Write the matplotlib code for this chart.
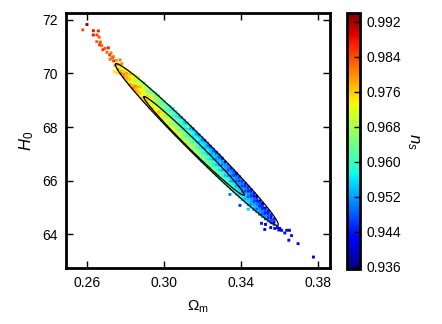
import numpy as np
import matplotlib
matplotlib.use("Agg")
import matplotlib.pyplot as plt

plt.rcParams['font.family'] = ['Liberation Sans', 'DejaVu Sans']
plt.rcParams['mathtext.fontset'] = 'custom'
plt.rcParams['mathtext.rm'] = 'Liberation Sans'
plt.rcParams['mathtext.it'] = 'Liberation Sans:italic'

# ---- dense band of samples: one Omega_m value per column, H0 and n_s per point ----
om_cols = [0.2760, 0.2775, 0.2790, 0.2805, 0.2820, 0.2835, 0.2850, 0.2865, 0.2880, 0.2895,
           0.2910, 0.2925, 0.2940, 0.2955, 0.2970, 0.2985, 0.3000, 0.3015, 0.3030, 0.3045,
           0.3060, 0.3075, 0.3090, 0.3105, 0.3120, 0.3135, 0.3150, 0.3165, 0.3180, 0.3195,
           0.3210, 0.3225, 0.3240, 0.3255, 0.3270, 0.3285, 0.3300, 0.3315, 0.3330, 0.3345,
           0.3360, 0.3375, 0.3390, 0.3405, 0.3420, 0.3435, 0.3450, 0.3465, 0.3480, 0.3495,
           0.3510, 0.3525, 0.3540, 0.3555, 0.3570]
h0_cols = [
    [70.16, 70.26, 70.35],
    [70.00, 70.10, 70.20, 70.29],
    [69.87, 69.97, 70.07, 70.17],
    [69.72, 69.82, 69.92, 70.02, 70.12],
    [69.59, 69.69, 69.79, 69.89, 69.99, 70.07],
    [69.46, 69.56, 69.66, 69.76, 69.86, 69.96],
    [69.34, 69.44, 69.54, 69.64, 69.74, 69.84, 69.92],
    [69.21, 69.31, 69.41, 69.51, 69.61, 69.71, 69.80],
    [69.09, 69.19, 69.29, 69.39, 69.49, 69.59, 69.69],
    [68.97, 69.07, 69.17, 69.27, 69.37, 69.47, 69.57, 69.65],
    [68.85, 68.95, 69.05, 69.15, 69.25, 69.35, 69.45, 69.53],
    [68.72, 68.82, 68.92, 69.02, 69.12, 69.22, 69.32, 69.42],
    [68.61, 68.71, 68.81, 68.91, 69.01, 69.11, 69.21, 69.31],
    [68.49, 68.59, 68.69, 68.79, 68.89, 68.99, 69.09, 69.19, 69.27],
    [68.37, 68.47, 68.57, 68.67, 68.77, 68.87, 68.97, 69.07, 69.16],
    [68.25, 68.35, 68.45, 68.55, 68.65, 68.75, 68.85, 68.95, 69.05],
    [68.15, 68.25, 68.35, 68.45, 68.55, 68.65, 68.75, 68.85, 68.95],
    [68.03, 68.13, 68.23, 68.33, 68.43, 68.53, 68.63, 68.73, 68.83],
    [67.92, 68.02, 68.12, 68.22, 68.32, 68.42, 68.52, 68.62, 68.72, 68.78],
    [67.81, 67.91, 68.01, 68.11, 68.21, 68.31, 68.41, 68.51, 68.61, 68.68],
    [67.70, 67.80, 67.90, 68.00, 68.10, 68.20, 68.30, 68.40, 68.50, 68.57],
    [67.59, 67.69, 67.79, 67.89, 67.99, 68.09, 68.19, 68.29, 68.39, 68.46],
    [67.48, 67.58, 67.68, 67.78, 67.88, 67.98, 68.08, 68.18, 68.28, 68.35],
    [67.37, 67.47, 67.57, 67.67, 67.77, 67.87, 67.97, 68.07, 68.17, 68.25],
    [67.26, 67.36, 67.46, 67.56, 67.66, 67.76, 67.86, 67.96, 68.06, 68.14],
    [67.15, 67.25, 67.35, 67.45, 67.55, 67.65, 67.75, 67.85, 67.95, 68.03],
    [67.05, 67.15, 67.25, 67.35, 67.45, 67.55, 67.65, 67.75, 67.85, 67.93],
    [66.94, 67.04, 67.14, 67.24, 67.34, 67.44, 67.54, 67.64, 67.74, 67.82],
    [66.83, 66.93, 67.03, 67.13, 67.23, 67.33, 67.43, 67.53, 67.63, 67.71],
    [66.72, 66.82, 66.92, 67.02, 67.12, 67.22, 67.32, 67.42, 67.52, 67.60],
    [66.62, 66.72, 66.82, 66.92, 67.02, 67.12, 67.22, 67.32, 67.42, 67.50],
    [66.51, 66.61, 66.71, 66.81, 66.91, 67.01, 67.11, 67.21, 67.31, 67.39],
    [66.40, 66.50, 66.60, 66.70, 66.80, 66.90, 67.00, 67.10, 67.20, 67.28],
    [66.30, 66.40, 66.50, 66.60, 66.70, 66.80, 66.90, 67.00, 67.10, 67.17],
    [66.19, 66.29, 66.39, 66.49, 66.59, 66.69, 66.79, 66.89, 66.99, 67.06],
    [66.09, 66.19, 66.29, 66.39, 66.49, 66.59, 66.69, 66.79, 66.89, 66.95],
    [65.99, 66.09, 66.19, 66.29, 66.39, 66.49, 66.59, 66.69, 66.79, 66.84],
    [65.89, 65.99, 66.09, 66.19, 66.29, 66.39, 66.49, 66.59, 66.69],
    [65.78, 65.88, 65.98, 66.08, 66.18, 66.28, 66.38, 66.48, 66.58],
    [65.68, 65.78, 65.88, 65.98, 66.08, 66.18, 66.28, 66.38, 66.47],
    [65.59, 65.69, 65.79, 65.89, 65.99, 66.09, 66.19, 66.29, 66.37],
    [65.49, 65.59, 65.69, 65.79, 65.89, 65.99, 66.09, 66.19, 66.26],
    [65.39, 65.49, 65.59, 65.69, 65.79, 65.89, 65.99, 66.09, 66.14],
    [65.29, 65.39, 65.49, 65.59, 65.69, 65.79, 65.89, 65.99],
    [65.20, 65.30, 65.40, 65.50, 65.60, 65.70, 65.80, 65.88],
    [65.10, 65.20, 65.30, 65.40, 65.50, 65.60, 65.70, 65.77],
    [65.01, 65.11, 65.21, 65.31, 65.41, 65.51, 65.61, 65.65],
    [64.92, 65.02, 65.12, 65.22, 65.32, 65.42, 65.52],
    [64.83, 64.93, 65.03, 65.13, 65.23, 65.33, 65.41],
    [64.74, 64.84, 64.94, 65.04, 65.14, 65.24],
    [64.66, 64.76, 64.86, 64.96, 65.06, 65.14],
    [64.57, 64.67, 64.77, 64.87, 64.97],
    [64.49, 64.59, 64.69, 64.79, 64.87],
    [64.42, 64.52, 64.62, 64.72],
    [64.36, 64.46, 64.56],
]
ns_cols = [
    [0.981, 0.973, 0.979],
    [0.983, 0.978, 0.972, 0.975],
    [0.980, 0.981, 0.976, 0.970],
    [0.976, 0.978, 0.977, 0.979, 0.973],
    [0.980, 0.974, 0.976, 0.975, 0.977, 0.972],
    [0.983, 0.978, 0.972, 0.974, 0.972, 0.975],
    [0.979, 0.978, 0.980, 0.973, 0.968, 0.971, 0.969],
    [0.977, 0.977, 0.975, 0.978, 0.972, 0.970, 0.965],
    [0.979, 0.973, 0.975, 0.973, 0.976, 0.970, 0.968],
    [0.978, 0.977, 0.971, 0.973, 0.971, 0.973, 0.968, 0.962],
    [0.975, 0.976, 0.975, 0.976, 0.971, 0.965, 0.967, 0.966],
    [0.978, 0.972, 0.974, 0.973, 0.975, 0.968, 0.963, 0.965],
    [0.974, 0.976, 0.974, 0.968, 0.970, 0.969, 0.971, 0.961],
    [0.977, 0.972, 0.973, 0.972, 0.966, 0.968, 0.966, 0.960, 0.963],
    [0.973, 0.975, 0.977, 0.971, 0.970, 0.964, 0.966, 0.964, 0.958],
    [0.976, 0.971, 0.973, 0.975, 0.969, 0.967, 0.962, 0.964, 0.962],
    [0.972, 0.974, 0.972, 0.966, 0.969, 0.963, 0.965, 0.963, 0.957],
    [0.976, 0.970, 0.972, 0.970, 0.964, 0.966, 0.961, 0.963, 0.961],
    [0.975, 0.973, 0.967, 0.970, 0.968, 0.962, 0.964, 0.958, 0.960, 0.959],
    [0.971, 0.973, 0.971, 0.965, 0.967, 0.965, 0.959, 0.962, 0.960, 0.954],
    [0.974, 0.968, 0.970, 0.968, 0.963, 0.965, 0.963, 0.957, 0.959, 0.958],
    [0.969, 0.972, 0.970, 0.964, 0.966, 0.960, 0.962, 0.960, 0.955, 0.957],
    [0.973, 0.967, 0.969, 0.967, 0.961, 0.964, 0.958, 0.960, 0.958, 0.953],
    [0.968, 0.970, 0.969, 0.963, 0.965, 0.963, 0.957, 0.959, 0.954, 0.956],
    [0.972, 0.966, 0.968, 0.966, 0.960, 0.962, 0.961, 0.955, 0.957, 0.955],
    [0.967, 0.969, 0.968, 0.962, 0.964, 0.958, 0.960, 0.958, 0.953, 0.955],
    [0.971, 0.965, 0.967, 0.965, 0.959, 0.961, 0.956, 0.958, 0.956, 0.950],
    [0.966, 0.968, 0.966, 0.961, 0.963, 0.957, 0.959, 0.957, 0.951, 0.954],
    [0.969, 0.964, 0.966, 0.964, 0.958, 0.960, 0.954, 0.957, 0.955, 0.949],
    [0.965, 0.967, 0.965, 0.959, 0.962, 0.956, 0.958, 0.956, 0.950, 0.953],
    [0.968, 0.962, 0.965, 0.963, 0.957, 0.959, 0.953, 0.955, 0.954, 0.948],
    [0.964, 0.966, 0.964, 0.958, 0.960, 0.954, 0.957, 0.955, 0.949, 0.952],
    [0.967, 0.961, 0.963, 0.962, 0.956, 0.958, 0.952, 0.954, 0.952, 0.947],
    [0.962, 0.965, 0.963, 0.957, 0.959, 0.953, 0.955, 0.954, 0.948, 0.950],
    [0.966, 0.960, 0.962, 0.960, 0.955, 0.957, 0.951, 0.953, 0.951, 0.946],
    [0.961, 0.963, 0.962, 0.956, 0.958, 0.952, 0.954, 0.952, 0.947, 0.949],
    [0.964, 0.959, 0.961, 0.959, 0.953, 0.956, 0.950, 0.952, 0.950, 0.945],
    [0.960, 0.962, 0.960, 0.954, 0.957, 0.951, 0.953, 0.951, 0.945],
    [0.963, 0.957, 0.960, 0.958, 0.952, 0.954, 0.948, 0.950, 0.949],
    [0.959, 0.961, 0.959, 0.953, 0.955, 0.949, 0.952, 0.950, 0.944],
    [0.962, 0.956, 0.958, 0.956, 0.951, 0.953, 0.947, 0.949, 0.948],
    [0.957, 0.959, 0.957, 0.952, 0.954, 0.948, 0.950, 0.948, 0.943],
    [0.960, 0.955, 0.957, 0.955, 0.949, 0.951, 0.946, 0.948, 0.947],
    [0.955, 0.958, 0.956, 0.950, 0.952, 0.946, 0.949, 0.947],
    [0.959, 0.953, 0.955, 0.953, 0.947, 0.950, 0.944, 0.946],
    [0.954, 0.956, 0.954, 0.948, 0.951, 0.945, 0.947, 0.946],
    [0.957, 0.951, 0.953, 0.952, 0.946, 0.948, 0.942, 0.945],
    [0.952, 0.954, 0.952, 0.947, 0.949, 0.943, 0.945],
    [0.955, 0.949, 0.952, 0.950, 0.944, 0.946, 0.941],
    [0.950, 0.952, 0.951, 0.945, 0.947, 0.943],
    [0.953, 0.948, 0.950, 0.944, 0.946, 0.942],
    [0.948, 0.951, 0.945, 0.947, 0.942],
    [0.951, 0.946, 0.948, 0.943, 0.945],
    [0.946, 0.948, 0.943, 0.945],
    [0.949, 0.943, 0.945],
]

# ---- sparse samples outside the contours (tails) ----
om_tail = [0.2598, 0.2576, 0.2631, 0.2657, 0.2631, 0.2650, 0.2661, 0.2649, 0.2668, 0.2664,
           0.2675, 0.2692, 0.2709, 0.2681, 0.2702, 0.2723, 0.2716, 0.2735, 0.2718, 0.2730,
           0.2751, 0.2737, 0.2770, 0.2779, 0.2744, 0.2740, 0.2754, 0.2865, 0.2969, 0.3121,
           0.3341, 0.3393, 0.3436, 0.3526, 0.3553, 0.3574, 0.3588, 0.3600, 0.3609, 0.3595,
           0.3626, 0.3636, 0.3650, 0.3661, 0.3647, 0.3695, 0.3775, 0.3505, 0.3522]
h0_tail = [71.83, 71.63, 71.60, 71.59, 71.44, 71.44, 71.36, 71.19, 71.17, 71.07,
           71.04, 70.94, 70.96, 70.89, 70.79, 70.77, 70.69, 70.63, 70.53, 70.59,
           70.49, 70.47, 70.51, 70.37, 70.30, 70.07, 70.02, 69.86, 69.10, 68.01,
           65.48, 65.07, 64.93, 64.36, 64.24, 64.21, 64.24, 64.21, 64.14, 64.15,
           64.04, 64.14, 64.14, 63.94, 63.77, 63.64, 63.14, 64.40, 64.17]
ns_tail = [0.993, 0.984, 0.988, 0.987, 0.988, 0.985, 0.984, 0.983, 0.984, 0.987,
           0.982, 0.983, 0.987, 0.986, 0.982, 0.981, 0.985, 0.981, 0.982, 0.983,
           0.979, 0.986, 0.981, 0.980, 0.981, 0.974, 0.975, 0.973, 0.968, 0.966,
           0.950, 0.946, 0.955, 0.940, 0.939, 0.943, 0.942, 0.942, 0.941, 0.943,
           0.942, 0.943, 0.942, 0.944, 0.941, 0.943, 0.941, 0.944, 0.942]

# ---- confidence contours: two tips and one side point (Omega_m, H0) ----
outer_tips_om = [0.2747, 0.3591]
outer_tips_h0 = [70.355, 64.33]
outer_side = [0.3202, 67.58]
inner_tips_om = [0.2894, 0.3415]
inner_tips_h0 = [69.13, 65.45]
inner_side = [0.3173, 67.42]

xticks = [0.26, 0.30, 0.34, 0.38]
yticks = [64, 66, 68, 70, 72]
cticks = [0.936, 0.944, 0.952, 0.960, 0.968, 0.976, 0.984, 0.992]

# build flat arrays
om_all, h0_all, ns_all = [], [], []
for om, hs, ns in zip(om_cols, h0_cols, ns_cols):
    for h, n in zip(hs, ns):
        om_all.append(om); h0_all.append(h); ns_all.append(n)
om_all += om_tail; h0_all += h0_tail; ns_all += ns_tail

fig = plt.figure(figsize=(4.42, 3.24), dpi=100)
ax = fig.add_axes([66/442, 1-268/324, (330-66)/442, (268-13.3)/324])
cax = fig.add_axes([346.7/442, 1-269.3/324, 13.3/442, (269.3-12.7)/324])

sc = ax.scatter(om_all, h0_all, c=ns_all, cmap='jet', vmin=0.9354, vmax=0.9941,
                marker='s', s=4.4, linewidths=0, zorder=2)
sc.set_snap(False)

def ellipse(tips_om, tips_h0, side):
    c = np.array([(tips_om[0]+tips_om[1])/2, (tips_h0[0]+tips_h0[1])/2])
    a = np.array([tips_om[0], tips_h0[0]]) - c
    b = np.array(side) - c
    t = np.linspace(0, 2*np.pi, 400)
    pts = c[:, None] + a[:, None]*np.cos(t) + b[:, None]*np.sin(t)
    return pts[0], pts[1]

for tips_om, tips_h0, side in [(outer_tips_om, outer_tips_h0, outer_side),
                               (inner_tips_om, inner_tips_h0, inner_side)]:
    ex, ey = ellipse(tips_om, tips_h0, side)
    ax.plot(ex, ey, color='black', lw=0.9, zorder=3)

ax.set_xlim(0.2489, 0.3861)
ax.set_ylim(62.73, 72.25)
ax.set_xticks(xticks)
ax.set_xticklabels([f"{v:.2f}" for v in xticks])
ax.set_yticks(yticks)
ax.set_yticklabels([str(v) for v in yticks])
ax.tick_params(direction='in', top=True, right=True, length=5, width=1.0,
               labelsize=10, pad=6)
for sp in ax.spines.values():
    sp.set_linewidth(2.0)
ax.set_xlabel(r'$\Omega_\mathrm{m}$', fontsize=11, labelpad=6)
ax.set_ylabel(r'$H_0$', fontsize=12, labelpad=4)

cb = fig.colorbar(sc, cax=cax)
cb.set_ticks(cticks)
cb.set_ticklabels([f"{v:.3f}" for v in cticks])
cb.ax.tick_params(direction='in', length=4, width=1.0, labelsize=10, pad=5)
cb.outline.set_linewidth(2.0)
cb.set_label(r'$n_s$', fontsize=12, rotation=270, labelpad=14)

fig.savefig('out.png', dpi=100)
